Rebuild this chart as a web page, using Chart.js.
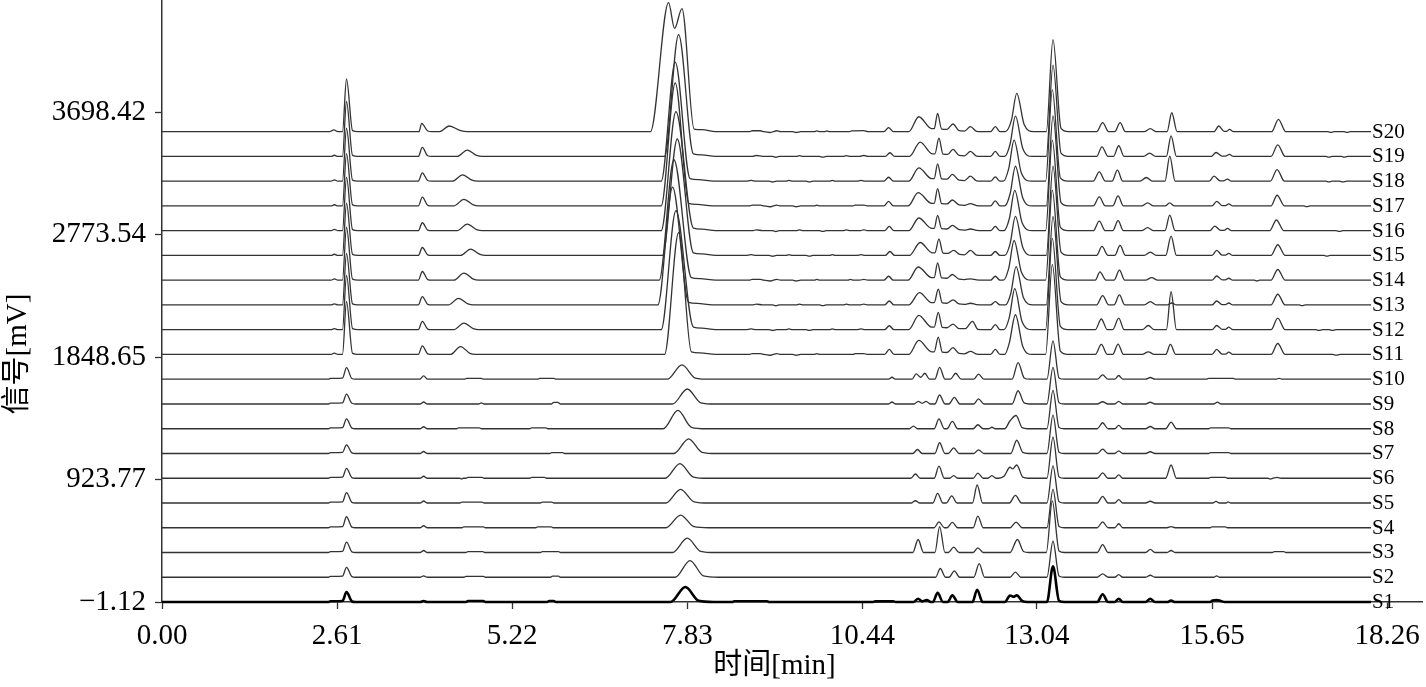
<!DOCTYPE html>
<html>
<head>
<meta charset="utf-8">
<script src="https://cdn.jsdelivr.net/npm/chart.js@4.4.0/dist/chart.umd.min.js"></script>
<style>
html, body { margin: 0; padding: 0; background: #fff; }
#wrap { width: 1426px; height: 687px; }
</style>
</head>
<body>
<div id="wrap"><canvas id="chart" width="1426" height="687"></canvas></div>
<script>
// axis ticks
const xTicks = [0, 2.61, 5.22, 7.83, 10.44, 13.04, 15.65, 18.26];
const xTickLabels = ['0.00', '2.61', '5.22', '7.83', '10.44', '13.04', '15.65', '18.26'];
const yTicks = [-1.12, 923.77, 1848.65, 2773.54, 3698.42];
const yTickLabels = ['\u22121.12', '923.77', '1848.65', '2773.54', '3698.42'];

const sampleNames = ['S1','S2','S3','S4','S5','S6','S7','S8','S9','S10',
                     'S11','S12','S13','S14','S15','S16','S17','S18','S19','S20'];
// baseline of each trace in the stacked plot (mV)
const baselines = [-1.12, 185.88, 372.88, 559.88, 746.88, 933.88, 1120.88, 1307.88, 1494.88, 1681.88,
                   1868.88, 2055.88, 2242.88, 2429.88, 2616.88, 2803.88, 2990.88, 3177.88, 3364.88, 3551.88];

// signal of each sample: [time min, mV above its baseline]
const S1 = [[0,0],[2.48,0],[2.51,6],[2.69,8],[2.75,75],[2.83,5],[2.88,0],
  [3.85,0],[3.90,8],[3.95,0],[4.53,0],[4.56,8],[4.79,8],[4.82,0],[5.74,0],[5.77,7],[5.84,7],[5.87,0],
  [7.58,0],[7.80,113],[8.00,9],[8.22,0],[8.50,0],[8.53,6],[9.02,6],[9.05,0],[10.60,0],[10.63,5],[10.90,5],[10.93,0],
  [11.20,0],[11.27,25],[11.33,5],[11.40,15],[11.46,0],[11.49,0],[11.56,70],[11.64,0],
  [11.71,0],[11.78,50],[11.86,0],[12.08,0],[12.15,93],[12.23,0],
  [12.56,0],[12.64,48],[12.69,40],[12.74,50],[12.82,8],[12.90,0],
  [13.19,0],[13.28,270],[13.37,10],[13.45,0],[13.94,0],[14.02,58],[14.10,0],[14.20,0],[14.26,25],[14.32,0],
  [14.66,0],[14.73,25],[14.80,0],[14.98,0],[15.04,11],[15.10,0],[15.62,0],[15.66,12],[15.72,15],[15.78,8],[15.84,0],[18.02,0]];
const S2 = [[0,0],[2.48,0],[2.51,6],[2.69,8],[2.75,75],[2.83,5],[2.88,0],
  [3.85,0],[3.90,11],[3.95,0],[4.50,0],[4.53,7],[4.79,7],[4.82,0],[5.79,0],[5.82,8],[5.91,8],[5.94,0],
  [7.65,0],[7.87,126],[8.07,10],[8.29,0],
  [11.53,0],[11.60,66],[11.68,0],[11.73,0],[11.81,48],[11.89,0],[12.10,0],[12.18,103],[12.26,0],
  [12.64,0],[12.72,38],[12.80,0],[13.19,0],[13.28,272],[13.37,10],[13.45,0],
  [13.94,0],[14.02,25],[14.10,0],[14.20,0],[14.26,20],[14.32,0],[14.66,0],[14.73,15],[14.80,0],
  [15.68,0],[15.72,10],[15.76,0],[18.02,0]];
const S3 = [[0,0],[2.48,0],[2.51,6],[2.69,8],[2.75,78],[2.83,5],[2.88,0],
  [3.85,0],[3.90,15],[3.95,0],[4.53,0],[4.56,7],[4.78,7],[4.81,0],[5.64,0],[5.67,7],[5.91,7],[5.94,0],
  [7.61,0],[7.83,108],[8.03,9],[8.25,0],
  [11.19,0],[11.27,98],[11.35,0],[11.52,0],[11.59,196],[11.67,0],[11.72,0],[11.80,40],[11.88,0],
  [12.09,0],[12.16,35],[12.24,0],[12.64,0],[12.75,98],[12.84,8],[12.92,0],
  [13.18,0],[13.27,390],[13.37,12],[13.45,0],[13.94,0],[14.02,60],[14.10,0],[14.66,0],[14.73,23],[14.80,0],
  [14.98,0],[15.04,15],[15.10,0],[16.55,0],[16.58,7],[16.72,7],[16.75,0],[18.02,0]];
const S4 = [[0,0],[2.48,0],[2.51,6],[2.69,8],[2.75,83],[2.83,5],[2.88,0],
  [3.85,0],[3.90,15],[3.95,0],[4.47,0],[4.50,7],[4.79,7],[4.82,0],[5.57,0],[5.60,7],[5.80,7],[5.83,0],
  [7.51,0],[7.73,96],[7.93,8],[8.15,0],
  [11.51,0],[11.58,45],[11.66,0],[11.70,0],[11.78,40],[11.86,0],[12.09,0],[12.16,88],[12.24,0],
  [12.64,0],[12.73,43],[12.82,0],[13.19,0],[13.28,290],[13.37,10],[13.45,0],
  [13.94,0],[14.02,45],[14.10,0],[14.20,0],[14.26,30],[14.32,0],[14.98,0],[15.04,8],[15.10,0],
  [15.62,0],[15.65,7],[15.85,7],[15.88,0],[18.02,0]];
const S5 = [[0,0],[2.48,0],[2.51,6],[2.69,8],[2.75,78],[2.83,5],[2.88,0],
  [3.85,0],[3.90,15],[3.95,0],[4.44,0],[4.47,7],[4.77,7],[4.80,0],[5.64,0],[5.67,7],[5.81,7],[5.84,0],
  [7.51,0],[7.73,103],[7.93,9],[8.15,0],
  [11.17,0],[11.23,17],[11.29,0],[11.49,0],[11.56,73],[11.64,0],[11.69,0],[11.77,53],[11.85,0],
  [12.08,0],[12.15,136],[12.23,0],[12.63,0],[12.72,58],[12.81,0],
  [13.19,0],[13.28,280],[13.37,10],[13.45,0],[13.94,0],[14.02,50],[14.10,0],[14.20,0],[14.26,25],[14.32,0],
  [14.66,0],[14.73,13],[14.80,0],[15.66,0],[15.71,12],[15.76,0],[15.86,0],[15.89,8],[15.93,0],[18.02,0]];
const S6 = [[0,0],[2.48,0],[2.51,6],[2.69,8],[2.75,75],[2.83,5],[2.88,0],
  [3.85,0],[3.90,15],[3.95,0],[4.44,0],[4.46,-6],[4.49,0],[4.53,0],[4.56,7],[4.77,7],[4.80,0],
  [5.48,0],[5.51,7],[5.70,7],[5.73,0],[7.50,0],[7.72,111],[7.92,9],[8.14,0],
  [11.16,0],[11.23,32],[11.30,0],[11.51,0],[11.58,91],[11.66,0],[11.74,0],[11.80,20],[11.86,0],
  [12.09,0],[12.16,38],[12.24,0],[12.31,0],[12.37,20],[12.43,0],
  [12.47,0],[12.55,15],[12.64,83],[12.68,70],[12.74,100],[12.83,8],[12.91,0],
  [13.19,0],[13.28,310],[13.37,10],[13.45,0],[13.94,0],[14.02,40],[14.10,0],[14.20,0],[14.26,25],[14.32,0],
  [14.96,0],[15.04,100],[15.12,0],[15.60,0],[15.63,7],[15.85,7],[15.88,0],
  [16.48,0],[16.52,-6],[16.56,0],[16.62,7],[16.68,0],[18.02,0]];
const S7 = [[0,0],[2.48,0],[2.51,6],[2.69,8],[2.75,65],[2.83,5],[2.88,0],
  [3.85,0],[3.90,15],[3.95,0],[5.78,0],[5.81,7],[5.97,7],[6.00,0],
  [7.63,0],[7.85,111],[8.05,9],[8.27,0],
  [11.19,0],[11.26,30],[11.33,0],[11.52,0],[11.59,81],[11.67,0],[11.72,0],[11.80,43],[11.88,0],
  [12.10,0],[12.17,28],[12.25,0],[12.65,0],[12.74,100],[12.83,8],[12.91,0],
  [13.19,0],[13.28,290],[13.37,10],[13.45,0],[13.94,0],[14.02,33],[14.10,0],[14.20,0],[14.26,20],[14.32,0],
  [14.66,0],[14.73,13],[14.80,0],[15.60,0],[15.63,7],[15.90,7],[15.93,0],[18.02,0]];
const S8 = [[0,0],[2.48,0],[2.51,6],[2.69,8],[2.75,75],[2.83,5],[2.88,0],
  [3.85,0],[3.90,15],[3.95,0],[4.39,0],[4.42,7],[4.73,7],[4.76,0],[5.48,0],[5.51,7],[5.72,7],[5.75,0],
  [7.47,0],[7.69,138],[7.89,11],[8.11,0],
  [11.14,0],[11.20,20],[11.26,0],[11.51,0],[11.58,75],[11.66,0],[11.70,0],[11.78,55],[11.86,0],
  [12.09,0],[12.16,30],[12.24,0],[12.32,0],[12.37,11],[12.42,0],
  [12.56,0],[12.64,60],[12.73,100],[12.82,8],[12.90,0],
  [13.19,0],[13.28,290],[13.37,10],[13.45,0],[13.94,0],[14.02,45],[14.10,0],[14.20,0],[14.26,25],[14.32,0],
  [14.66,0],[14.73,17],[14.80,0],[14.96,0],[15.04,50],[15.12,0],[15.60,0],[15.63,7],[15.90,7],[15.93,0],[18.02,0]];
const S9 = [[0,0],[2.48,0],[2.51,6],[2.69,8],[2.75,75],[2.83,5],[2.88,0],
  [3.85,0],[3.90,15],[3.95,0],[4.72,0],[4.76,8],[4.80,0],[5.80,0],[5.84,12],[5.90,12],[5.94,0],
  [7.61,0],[7.83,113],[8.03,9],[8.25,0],[10.83,0],[10.88,15],[10.93,0],
  [11.21,0],[11.27,20],[11.33,5],[11.39,20],[11.45,0],[11.52,0],[11.59,68],[11.67,0],
  [11.73,0],[11.81,50],[11.89,0],[12.10,0],[12.17,38],[12.25,0],[12.67,0],[12.76,100],[12.85,8],[12.93,0],
  [13.19,0],[13.28,277],[13.37,10],[13.45,0],[13.94,0],[14.02,17],[14.10,0],[14.20,0],[14.26,20],[14.32,0],
  [14.66,0],[14.73,13],[14.80,0],[15.68,0],[15.73,14],[15.78,0],[18.02,0]];
const S10 = [[0,0],[2.48,0],[2.51,6],[2.69,8],[2.75,88],[2.83,5],[2.88,0],
  [3.84,0],[3.90,25],[3.96,0],[4.51,0],[4.54,7],[4.76,7],[4.79,0],[5.60,0],[5.63,7],[5.84,7],[5.87,0],
  [7.53,0],[7.75,108],[7.95,9],[8.17,0],[10.83,0],[10.88,15],[10.93,0],
  [11.18,0],[11.24,40],[11.31,15],[11.37,45],[11.44,0],[11.52,0],[11.59,90],[11.67,0],
  [11.75,0],[11.83,45],[11.91,0],[12.10,0],[12.17,38],[12.25,0],[12.67,0],[12.76,126],[12.85,10],[12.93,0],
  [13.19,0],[13.28,290],[13.37,10],[13.45,0],[13.94,0],[14.02,33],[14.10,0],[14.20,0],[14.26,28],[14.32,0],
  [14.66,0],[14.73,13],[14.80,0],[15.57,0],[15.60,7],[15.97,7],[16.00,0],[16.60,0],[16.65,7],[16.70,0],[18.02,0]];
const S11 = [[0,0],[2.52,0],[2.57,10],[2.62,0],[2.69,0],[2.75,400],[2.84,8],[2.92,0],
  [3.82,0],[3.88,65],[3.96,5],[4.02,0],[4.30,0],[4.45,60],[4.59,8],[4.67,0],
  [7.49,0],[7.70,920],[7.89,20],[8.02,12],[8.25,0],
  [8.75,0],[8.80,7],[8.92,7],[8.97,0],[9.06,-6],[9.11,0],[9.16,7],[9.22,0],[9.40,0],[9.45,-6],[9.52,0],[9.72,0],[9.76,6],[9.81,0],[10.30,0],[10.33,6],[10.46,7],[10.52,0],
  [10.77,0],[10.84,38],[10.91,0],
  [11.13,0],[11.28,106],[11.47,20],[11.51,20],[11.57,131],[11.63,18],[11.70,15],[11.79,51],[11.88,8],[11.96,5],[12.05,23],[12.14,3],[12.22,0],
  [12.35,0],[12.42,38],[12.49,0],[12.56,0],[12.63,90],[12.72,300],[12.83,60],[12.97,0],
  [13.17,0],[13.27,680],[13.39,25],[13.50,0],[13.91,0],[14.00,76],[14.09,0],[14.17,0],[14.25,78],[14.33,0],
  [14.61,0],[14.70,20],[14.79,0],[14.96,0],[15.03,76],[15.11,0],
  [15.65,0],[15.72,38],[15.80,3],[15.85,3],[15.90,17],[15.96,0],[16.53,0],[16.63,83],[16.74,0],
  [17.45,0],[17.50,-5],[17.56,0],[18.02,0]];
const S12 = [[0,0],[2.52,0],[2.57,9],[2.62,0],[2.69,0],[2.75,410],[2.84,8],[2.92,0],
  [3.82,0],[3.88,63],[3.96,5],[4.02,0],[4.35,0],[4.50,50],[4.64,8],[4.72,0],
  [7.44,0],[7.66,900],[7.92,20],[8.05,12],[8.25,0],
  [8.70,0],[8.78,6],[8.86,0],[9.05,0],[9.10,-6],[9.16,0],[9.30,0],[9.34,6],[9.40,0],[9.60,0],[9.65,-5],[9.70,0],[9.95,0],[9.99,6],[10.04,0],[10.35,0],[10.42,6],[10.48,0],
  [10.77,0],[10.84,30],[10.91,0],
  [11.13,0],[11.28,108],[11.47,20],[11.51,20],[11.57,131],[11.63,18],[11.70,15],[11.79,43],[11.88,8],[11.97,8],[12.08,63],[12.16,3],[12.24,0],
  [12.35,0],[12.42,38],[12.49,0],[12.55,0],[12.63,95],[12.71,310],[12.82,60],[12.97,0],
  [13.17,0],[13.27,690],[13.39,25],[13.50,0],[13.91,0],[14.00,81],[14.09,0],[14.17,0],[14.26,88],[14.34,0],
  [14.61,0],[14.70,32],[14.79,0],[14.97,0],[15.04,287],[15.12,0],
  [15.65,0],[15.72,32],[15.80,3],[15.85,3],[15.90,20],[15.96,0],[16.53,0],[16.63,88],[16.74,0],
  [17.20,0],[17.24,-5],[17.30,0],[17.40,0],[17.44,-5],[17.50,0],[18.02,0]];
const S13 = [[0,0],[2.52,0],[2.57,8],[2.62,0],[2.69,0],[2.75,390],[2.84,8],[2.92,0],
  [3.82,0],[3.88,63],[3.96,5],[4.02,0],[4.27,0],[4.42,50],[4.56,8],[4.64,0],
  [7.39,0],[7.61,890],[7.85,20],[7.98,12],[8.20,0],
  [8.80,0],[8.86,7],[8.95,0],[9.10,0],[9.15,-6],[9.20,0],[9.45,0],[9.50,6],[9.56,0],[9.80,0],[9.85,-5],[9.90,0],[10.15,0],[10.20,6],[10.26,0],[10.40,0],[10.46,7],[10.52,0],
  [10.77,0],[10.84,30],[10.91,0],
  [11.13,0],[11.29,93],[11.47,18],[11.51,18],[11.57,119],[11.63,16],[11.70,13],[11.79,38],[11.88,8],[11.96,5],[12.05,13],[12.14,3],[12.22,0],
  [12.35,0],[12.42,25],[12.49,0],[12.57,0],[12.65,85],[12.73,290],[12.84,55],[12.98,0],
  [13.18,0],[13.28,670],[13.40,25],[13.51,0],[13.93,0],[14.02,70],[14.11,0],[14.19,0],[14.27,76],[14.35,0],
  [14.64,0],[14.73,25],[14.82,0],[14.98,0],[15.05,15],[15.12,0],
  [15.65,0],[15.72,30],[15.80,3],[15.85,3],[15.90,15],[15.96,0],[16.53,0],[16.63,81],[16.74,0],
  [16.95,0],[16.99,-5],[17.04,0],[18.02,0]];
const S14 = [[0,0],[2.52,0],[2.57,10],[2.62,0],[2.69,0],[2.75,400],[2.84,8],[2.92,0],
  [3.82,0],[3.88,66],[3.96,5],[4.02,0],[4.35,0],[4.50,53],[4.64,8],[4.72,0],
  [7.41,0],[7.63,910],[7.89,20],[8.02,12],[8.25,0],
  [8.75,0],[8.80,7],[8.92,7],[8.97,0],[9.06,-6],[9.11,0],[9.16,7],[9.22,0],[9.40,0],[9.45,-6],[9.52,0],[9.72,0],[9.76,6],[9.81,0],[10.22,0],[10.26,6],[10.31,0],[10.40,0],[10.46,7],[10.52,0],
  [10.76,0],[10.83,30],[10.90,0],
  [11.12,0],[11.27,100],[11.47,20],[11.51,20],[11.56,131],[11.62,18],[11.70,15],[11.78,43],[11.88,8],[11.96,5],[12.05,10],[12.14,3],[12.22,0],
  [12.35,0],[12.42,30],[12.49,0],[12.54,0],[12.62,90],[12.70,300],[12.81,60],[12.96,0],
  [13.17,0],[13.27,680],[13.39,25],[13.50,0],[13.91,0],[13.98,63],[14.07,0],[14.19,0],[14.27,76],[14.35,0],
  [14.66,0],[14.75,20],[14.84,0],
  [15.65,0],[15.72,32],[15.80,3],[15.85,3],[15.90,15],[15.96,0],[16.28,0],[16.32,-6],[16.36,0],[16.53,0],[16.63,81],[16.74,0],[18.02,0]];
const S15 = [[0,0],[2.52,0],[2.57,9],[2.62,0],[2.69,0],[2.75,395],[2.84,8],[2.92,0],
  [3.82,0],[3.88,60],[3.96,5],[4.02,0],[4.45,0],[4.60,48],[4.74,8],[4.82,0],
  [7.46,0],[7.68,880],[7.92,20],[8.05,12],[8.25,0],
  [8.70,0],[8.78,6],[8.86,0],[9.05,0],[9.10,-6],[9.16,0],[9.30,0],[9.34,6],[9.40,0],[9.60,0],[9.65,-5],[9.70,0],[9.95,0],[9.99,6],[10.04,0],[10.35,0],[10.42,6],[10.48,0],
  [10.78,0],[10.85,30],[10.92,0],
  [11.14,0],[11.30,98],[11.48,20],[11.52,20],[11.58,126],[11.64,18],[11.71,15],[11.80,38],[11.89,8],[11.96,5],[12.05,38],[12.14,3],[12.22,0],
  [12.35,0],[12.42,30],[12.49,0],[12.56,0],[12.64,88],[12.72,295],[12.83,60],[12.97,0],
  [13.18,0],[13.28,675],[13.40,25],[13.51,0],[13.93,0],[14.01,68],[14.10,0],[14.20,0],[14.28,76],[14.36,0],
  [14.64,0],[14.73,25],[14.82,0],[14.96,0],[15.04,146],[15.12,0],
  [15.65,0],[15.72,38],[15.80,3],[15.85,3],[15.90,15],[15.96,0],[16.53,0],[16.63,81],[16.74,0],
  [17.32,0],[17.36,-5],[17.41,0],[18.02,0]];
const S16 = [[0,0],[2.52,0],[2.57,10],[2.62,0],[2.69,0],[2.75,405],[2.84,8],[2.92,0],
  [3.82,0],[3.88,60],[3.96,5],[4.02,0],[4.40,0],[4.55,50],[4.69,8],[4.77,0],
  [7.44,0],[7.66,900],[7.92,20],[8.05,12],[8.25,0],
  [8.80,0],[8.86,7],[8.95,0],[9.10,0],[9.15,-6],[9.20,0],[9.45,0],[9.50,6],[9.56,0],[9.80,0],[9.85,-5],[9.90,0],[10.15,0],[10.20,6],[10.26,0],[10.40,0],[10.46,7],[10.52,0],
  [10.77,0],[10.84,32],[10.91,0],
  [11.13,0],[11.28,96],[11.47,18],[11.51,18],[11.56,116],[11.62,16],[11.70,13],[11.78,40],[11.88,8],[11.96,5],[12.05,13],[12.14,3],[12.22,0],
  [12.35,0],[12.42,32],[12.49,0],[12.55,0],[12.63,92],[12.71,305],[12.82,60],[12.97,0],
  [13.17,0],[13.27,685],[13.39,25],[13.50,0],[13.88,0],[13.97,73],[14.06,0],[14.17,0],[14.25,76],[14.33,0],
  [14.60,0],[14.69,23],[14.78,0],[14.95,0],[15.02,118],[15.10,0],
  [15.62,0],[15.69,35],[15.78,3],[15.83,3],[15.88,17],[15.94,0],[16.51,0],[16.61,81],[16.72,0],
  [17.50,0],[17.55,-5],[17.60,0],[18.02,0]];
const S17 = [[0,0],[2.52,0],[2.57,9],[2.62,0],[2.69,0],[2.75,395],[2.84,8],[2.92,0],
  [3.82,0],[3.88,66],[3.96,5],[4.02,0],[4.35,0],[4.50,50],[4.64,8],[4.72,0],
  [7.44,0],[7.65,930],[7.85,20],[7.98,12],[8.20,0],
  [8.75,0],[8.80,7],[8.92,7],[8.97,0],[9.06,-6],[9.11,0],[9.16,7],[9.22,0],[9.40,0],[9.45,-6],[9.52,0],[9.72,0],[9.76,6],[9.81,0],[10.30,0],[10.33,6],[10.46,7],[10.52,0],
  [10.76,0],[10.83,35],[10.90,0],
  [11.12,0],[11.27,100],[11.47,20],[11.51,20],[11.56,131],[11.62,18],[11.70,15],[11.78,45],[11.88,8],[11.96,5],[12.05,17],[12.14,3],[12.22,0],
  [12.35,0],[12.42,38],[12.49,0],[12.56,0],[12.64,90],[12.72,300],[12.83,60],[12.97,0],
  [13.18,0],[13.28,680],[13.40,25],[13.51,0],[13.88,0],[13.97,68],[14.06,0],[14.17,0],[14.25,76],[14.33,0],
  [14.60,0],[14.69,23],[14.78,0],[14.95,0],[15.02,23],[15.09,0],
  [15.65,0],[15.72,35],[15.80,3],[15.85,3],[15.90,15],[15.96,0],[16.53,0],[16.62,81],[16.73,0],
  [17.02,0],[17.06,-5],[17.11,0],[18.02,0]];
const S18 = [[0,0],[2.52,0],[2.57,10],[2.62,0],[2.69,0],[2.75,400],[2.84,8],[2.92,0],
  [3.82,0],[3.88,63],[3.96,5],[4.02,0],[4.33,0],[4.48,48],[4.62,8],[4.70,0],
  [7.44,0],[7.65,900],[7.87,20],[8.00,12],[8.22,0],
  [8.70,0],[8.78,6],[8.86,0],[9.05,0],[9.10,-6],[9.16,0],[9.30,0],[9.34,6],[9.40,0],[9.60,0],[9.65,-5],[9.70,0],[9.95,0],[9.99,6],[10.04,0],[10.35,0],[10.42,6],[10.48,0],
  [10.76,0],[10.83,30],[10.90,0],
  [11.13,0],[11.28,100],[11.47,20],[11.51,20],[11.56,131],[11.62,18],[11.70,15],[11.78,51],[11.88,8],[11.96,5],[12.05,38],[12.14,3],[12.22,0],
  [12.35,0],[12.42,32],[12.49,0],[12.54,0],[12.62,95],[12.70,310],[12.81,60],[12.96,0],
  [13.17,0],[13.27,690],[13.39,25],[13.50,0],[13.88,0],[13.97,70],[14.06,0],[14.16,0],[14.24,83],[14.32,0],
  [14.58,0],[14.67,28],[14.76,0],[14.95,0],[15.02,189],[15.10,0],
  [15.61,0],[15.68,38],[15.77,3],[15.82,3],[15.88,15],[15.94,0],[16.52,0],[16.62,88],[16.73,0],
  [17.35,0],[17.39,-5],[17.44,0],[17.55,0],[17.60,-5],[17.66,0],[18.02,0]];
const S19 = [[0,0],[2.52,0],[2.57,9],[2.62,0],[2.69,0],[2.75,415],[2.84,8],[2.92,0],
  [3.82,0],[3.88,68],[3.96,5],[4.02,0],[4.40,0],[4.55,48],[4.69,8],[4.77,0],
  [7.49,0],[7.70,920],[7.92,20],[8.05,12],[8.25,0],
  [8.80,0],[8.86,7],[8.95,0],[9.10,0],[9.15,-6],[9.20,0],[9.45,0],[9.50,6],[9.56,0],[9.80,0],[9.85,-5],[9.90,0],[10.15,0],[10.20,6],[10.26,0],[10.40,0],[10.46,7],[10.52,0],
  [10.78,0],[10.85,28],[10.92,0],
  [11.14,0],[11.30,108],[11.48,20],[11.52,20],[11.58,138],[11.64,18],[11.71,15],[11.79,53],[11.88,8],[11.96,5],[12.05,38],[12.14,3],[12.22,0],
  [12.35,0],[12.42,38],[12.49,0],[12.56,0],[12.64,92],[12.72,305],[12.83,60],[12.97,0],
  [13.18,0],[13.28,690],[13.40,25],[13.51,0],[13.93,0],[14.01,73],[14.10,0],[14.18,0],[14.26,81],[14.34,0],
  [14.63,0],[14.72,25],[14.81,0],[14.97,0],[15.04,156],[15.12,0],
  [15.64,0],[15.71,30],[15.80,3],[15.85,3],[15.91,15],[15.97,0],[16.53,0],[16.63,88],[16.74,0],
  [17.35,0],[17.39,-5],[17.44,0],[17.58,0],[17.62,-5],[17.67,0],[18.02,0]];
const S20 = [[0,0],[2.50,0],[2.56,14],[2.62,0],[2.69,0],[2.75,398],[2.84,8],[2.92,0],
  [3.83,0],[3.87,63],[3.96,5],[4.02,0],[4.14,0],[4.28,43],[4.45,8],[4.55,0],
  [7.28,0],[7.55,975],[7.64,780],[7.75,930],[7.93,20],[8.05,15],[8.25,0],
  [8.75,0],[8.80,7],[8.92,7],[8.97,0],[9.06,-6],[9.11,0],[9.16,7],[9.22,0],[9.40,0],[9.45,-6],[9.52,0],[9.72,0],[9.76,6],[9.81,0],[9.87,0],[9.91,6],[9.95,0],[10.25,0],[10.28,6],[10.46,8],[10.52,0],
  [10.76,0],[10.83,30],[10.90,0],
  [11.13,0],[11.28,113],[11.47,23],[11.51,23],[11.56,138],[11.62,20],[11.70,18],[11.79,58],[11.88,8],[11.96,5],[12.05,38],[12.14,3],[12.22,0],
  [12.35,0],[12.42,38],[12.49,0],[12.57,0],[12.66,85],[12.74,290],[12.85,55],[12.99,0],
  [13.18,0],[13.28,695],[13.40,25],[13.51,0],[13.93,0],[14.02,68],[14.11,0],[14.20,0],[14.28,68],[14.36,0],
  [14.64,0],[14.73,23],[14.82,0],[14.98,0],[15.05,143],[15.13,0],
  [15.68,0],[15.75,43],[15.83,3],[15.87,3],[15.91,17],[15.97,0],[16.54,0],[16.64,93],[16.75,0],
  [17.38,0],[17.42,-5],[17.47,0],[17.62,0],[17.66,-5],[17.71,0],[18.02,0]];

const traces = [S1, S2, S3, S4, S5, S6, S7, S8, S9, S10, S11, S12, S13, S14, S15, S16, S17, S18, S19, S20];

const serif = '"Liberation Serif", "Times New Roman", "Noto Sans CJK SC", serif';
const axisColor = '#333';

const datasets = traces.map((pts, i) => ({
  label: sampleNames[i],
  data: pts.map(p => ({ x: p[0], y: p[1] + baselines[i] })),
  borderColor: i === 0 ? '#000' : '#333',
  borderWidth: i === 0 ? 2.6 : 1.3,
  pointRadius: 0,
  cubicInterpolationMode: 'monotone',
  clip: false
}));

// sample names at the end of each trace, plus axis titles
const decorations = {
  id: 'decorations',
  afterDatasetsDraw(chart) {
    const { ctx, scales: { x, y } } = chart;
    ctx.save();
    ctx.fillStyle = '#000';
    ctx.font = '21px ' + serif;
    ctx.textAlign = 'left';
    ctx.textBaseline = 'alphabetic';
    sampleNames.forEach((name, i) => {
      const px = x.getPixelForValue(18.02) + 1;
      const py = y.getPixelForValue(baselines[i]) + 6;
      ctx.fillText(name, px, py);
    });
    ctx.font = '29px ' + serif;
    ctx.textAlign = 'center';
    ctx.textBaseline = 'middle';
    ctx.fillText('时间[min]', x.getPixelForValue(9.13), 666);
    ctx.translate(18, 354);
    ctx.rotate(-Math.PI / 2);
    ctx.fillText('信号[mV]', 0, 0);
    ctx.restore();
  }
};

new Chart(document.getElementById('chart'), {
  type: 'line',
  data: { datasets },
  options: {
    responsive: false,
    animation: false,
    layout: { padding: { left: 0, right: 4, top: 0, bottom: 0 } },
    plugins: { legend: { display: false }, tooltip: { enabled: false } },
    scales: {
      x: {
        type: 'linear',
        min: 0,
        max: 18.78,
        afterBuildTicks: s => { s.ticks = xTicks.map(v => ({ value: v })); },
        afterFit: s => { s.height = 85; s.paddingLeft = 0; s.paddingRight = 0; },
        ticks: {
          callback: (v, i) => xTickLabels[i],
          font: { family: serif, size: 29 },
          color: '#000',
          padding: 10,
          maxRotation: 0,
          autoSkip: false
        },
        grid: { drawOnChartArea: false, drawTicks: true, tickLength: 7, tickColor: axisColor, tickWidth: 1.3 },
        border: { display: true, color: axisColor, width: 1.5 }
      },
      y: {
        type: 'linear',
        min: -1.12,
        max: 4546.8,
        afterBuildTicks: s => { s.ticks = yTicks.map(v => ({ value: v })); },
        afterFit: s => { s.width = 162; s.paddingTop = 0; s.paddingBottom = 0; },
        ticks: {
          callback: (v, i) => yTickLabels[i],
          font: { family: serif, size: 29 },
          color: '#000',
          padding: 9,
          autoSkip: false
        },
        grid: { drawOnChartArea: false, drawTicks: true, tickLength: 7, tickColor: axisColor, tickWidth: 1.3 },
        border: { display: true, color: axisColor, width: 1.5 }
      }
    }
  },
  plugins: [decorations]
});
</script>
</body>
</html>
